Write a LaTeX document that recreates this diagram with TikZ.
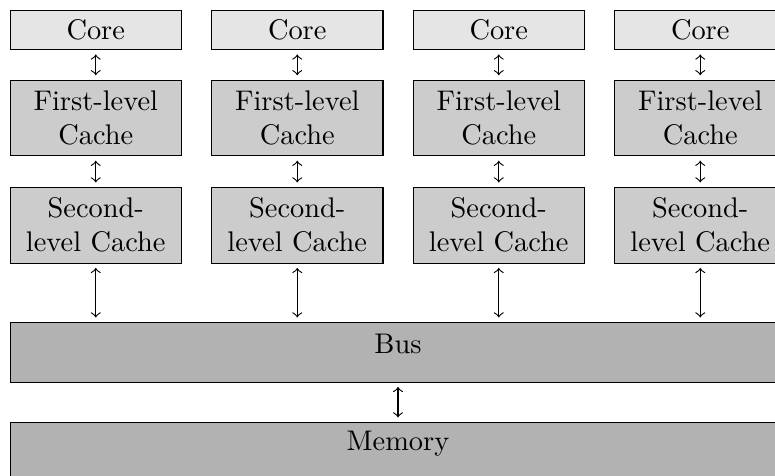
\documentclass[tikz,border=0pt]{standalone}
\usetikzlibrary{arrows}
\begin{document}
\begin{tikzpicture}[x=0.35213pt, y=-0.35213pt,
  box/.style={draw=black, line width=0.4pt, anchor=north west, inner sep=3.33pt,
    minimum width=60.35pt, align=center},
  corebox/.style={box, fill=black!10, minimum height=13.66pt},
  cachebox/.style={box, fill=black!20, minimum height=26.7pt},
  widebox/.style={box, fill=black!30, minimum width=273.2pt, minimum height=21.06pt},
  link/.style={<->, line width=0.4pt, shorten >=1.5pt, shorten <=1.5pt}]
  \useasboundingbox (0,0) rectangle (775,475);
  % four cores, each with its private first- and second-level cache
  \foreach \i/\x in {1/9.5, 2/211, 3/412.5, 4/614} {
    \node[corebox]  (core\i) at (\x, 9.5)   {Core};
    \node[cachebox] (l1\i)   at (\x, 79.5)  {First-level\\Cache};
    \node[cachebox] (l2\i)   at (\x, 186.7) {Second-\\level Cache};
  }
  % shared bus and main memory
  \node[widebox, text height=7.6pt, text depth=6.5pt] (bus) at (9.5, 321.7) {Bus};
  \node[widebox, text height=6.5pt, text depth=7.6pt] (mem) at (9.5, 421.7) {Memory};
  \foreach \i in {1,2,3,4} {
    \draw[link] (core\i.south) -- (l1\i.north);
    \draw[link] (l1\i.south) -- (l2\i.north);
    \draw[link] (l2\i.south) -- (l2\i.south |- bus.north);
  }
  \draw[link] (bus.south) -- (mem.north);
\end{tikzpicture}
\end{document}
